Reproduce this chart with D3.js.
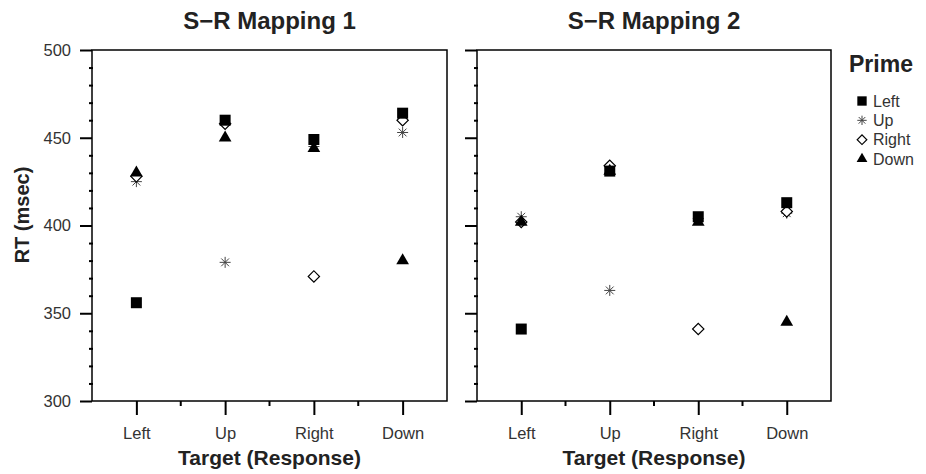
<!DOCTYPE html>
<html>
<head>
<meta charset="utf-8">
<script src="https://cdn.jsdelivr.net/npm/d3@7"></script>
<style>
  body { margin: 0; background: #fff; }
  svg text { font-family: "Liberation Sans", Arial, sans-serif; }
</style>
</head>
<body>
<script>
// chart data
const targets = ['Left', 'Up', 'Right', 'Down'];
const primes = ['Left', 'Up', 'Right', 'Down'];
const panelTitles = ['S\u2212R Mapping 1', 'S\u2212R Mapping 2'];
const yTicks = [300, 350, 400, 450, 500];

// RT per prime, one value per target (Left, Up, Right, Down)
const map1Left  = [356, 460, 449, 464];
const map1Up    = [425, 379, 445, 453];
const map1Right = [428, 458, 371, 460];
const map1Down  = [430, 450, 444, 380];

const map2Left  = [341, 431, 405, 413];
const map2Up    = [405, 363, 404, 407];
const map2Right = [402, 434, 341, 408];
const map2Down  = [402, 431, 402, 345];

const mappings = [
  { Left: map1Left, Up: map1Up, Right: map1Right, Down: map1Down },
  { Left: map2Left, Up: map2Up, Right: map2Right, Down: map2Down }
];

const width = 926, height = 474;
const plotTop = 50, plotH = 351;
const panels = [{ left: 92, w: 355 }, { left: 477, w: 354 }];

const svg = d3.select('body').append('svg')
  .attr('width', width)
  .attr('height', height);

// marker shapes
function asterisk(r) {
  const p = d3.path();
  for (let k = 0; k < 4; k++) {
    const a = k * Math.PI / 4;
    p.moveTo(-r * Math.cos(a), -r * Math.sin(a));
    p.lineTo(r * Math.cos(a), r * Math.sin(a));
  }
  return p.toString();
}

function drawMarker(g, prime, scale) {
  const s = scale || 1;
  if (prime === 'Left') {
    g.append('path').attr('d', d3.symbol(d3.symbolSquare, 121 * s * s)())
      .attr('fill', '#000');
  } else if (prime === 'Up') {
    g.append('path').attr('d', asterisk(5.5 * s))
      .attr('fill', 'none').attr('stroke', '#444').attr('stroke-width', 1);
  } else if (prime === 'Right') {
    g.append('path').attr('d', d3.symbol(d3.symbolSquare, 64 * s * s)())
      .attr('transform', 'rotate(45)')
      .attr('fill', '#fff').attr('stroke', '#000').attr('stroke-width', 1.2);
  } else {
    g.append('path').attr('d', d3.symbol(d3.symbolTriangle, 70 * s * s)())
      .attr('fill', '#000');
  }
}

// draw order: star, diamond, square, triangle
const drawOrder = ['Up', 'Right', 'Left', 'Down'];

panels.forEach((p, i) => {
  const x = d3.scalePoint().domain(targets).range([0, p.w]).padding(0.5);
  const y = d3.scaleLinear().domain([300, 500]).range([plotH, 0]);

  const g = svg.append('g').attr('transform', `translate(${p.left},${plotTop})`);

  // minor y ticks
  const minor = d3.range(300, 501, 10).filter(v => v % 50 !== 0);
  g.append('g')
    .call(d3.axisLeft(y).tickValues(minor).tickSize(4).tickFormat(''))
    .call(a => a.select('.domain').remove())
    .call(a => a.selectAll('line').attr('stroke-width', 2).attr('x2', -3).attr('x1', 1));

  // major y ticks
  const yAxis = g.append('g')
    .call(d3.axisLeft(y).tickValues(yTicks).tickSize(12).tickPadding(9)
      .tickFormat(i === 0 ? d3.format('d') : ''))
    .call(a => a.select('.domain').remove());
  yAxis.selectAll('line').attr('stroke-width', 2);
  yAxis.selectAll('text').attr('font-size', 16.5).attr('fill', '#333')
    .style('font-family', '"Liberation Sans", Arial, sans-serif');

  // x axis
  const xAxis = g.append('g')
    .attr('transform', `translate(0,${plotH})`)
    .call(d3.axisBottom(x).tickSize(14).tickPadding(12))
    .call(a => a.select('.domain').remove());
  xAxis.selectAll('line').attr('stroke-width', 2);
  xAxis.selectAll('text').attr('font-size', 16.5).attr('fill', '#333')
    .style('font-family', '"Liberation Sans", Arial, sans-serif');

  // minor x ticks between categories
  const mids = targets.slice(1).map((t, k) => (x(targets[k]) + x(t)) / 2);
  g.selectAll('.xminor').data(mids).enter().append('line')
    .attr('x1', d => d).attr('x2', d => d)
    .attr('y1', plotH).attr('y2', plotH + 5)
    .attr('stroke', '#000').attr('stroke-width', 2);

  // frame
  g.append('rect')
    .attr('width', p.w).attr('height', plotH)
    .attr('fill', 'none').attr('stroke', '#000').attr('stroke-width', 1.5);

  // points
  drawOrder.forEach(prime => {
    mappings[i][prime].forEach((v, k) => {
      const m = g.append('g').attr('transform', `translate(${x(targets[k])},${y(v)})`);
      drawMarker(m, prime);
    });
  });

  // titles
  svg.append('text')
    .attr('x', p.left + p.w / 2).attr('y', 29)
    .attr('text-anchor', 'middle')
    .attr('font-size', 24).attr('font-weight', 'bold').attr('fill', '#222')
    .text(panelTitles[i]);

  svg.append('text')
    .attr('x', p.left + p.w / 2).attr('y', 465)
    .attr('text-anchor', 'middle')
    .attr('font-size', 21).attr('font-weight', 'bold').attr('fill', '#222')
    .text('Target (Response)');
});

// y axis title
svg.append('text')
  .attr('transform', `translate(22,215) rotate(-90)`)
  .attr('text-anchor', 'middle')
  .attr('dominant-baseline', 'central')
  .attr('font-size', 20).attr('font-weight', 'bold').attr('fill', '#222')
  .text('RT (msec)');

// legend
const legend = svg.append('g').attr('transform', 'translate(849,0)');
legend.append('text')
  .attr('x', 0).attr('y', 72)
  .attr('font-size', 23).attr('font-weight', 'bold').attr('fill', '#222')
  .text('Prime');

const legendY = d3.scalePoint().domain(primes).range([101, 159]);
primes.forEach(prime => {
  const row = legend.append('g').attr('transform', `translate(0,${legendY(prime)})`);
  drawMarker(row.append('g').attr('transform', 'translate(13,0)'), prime, 0.85);
  row.append('text')
    .attr('x', 24).attr('y', 0)
    .attr('dominant-baseline', 'central')
    .attr('font-size', 16).attr('fill', '#333')
    .text(prime);
});
</script>
</body>
</html>
